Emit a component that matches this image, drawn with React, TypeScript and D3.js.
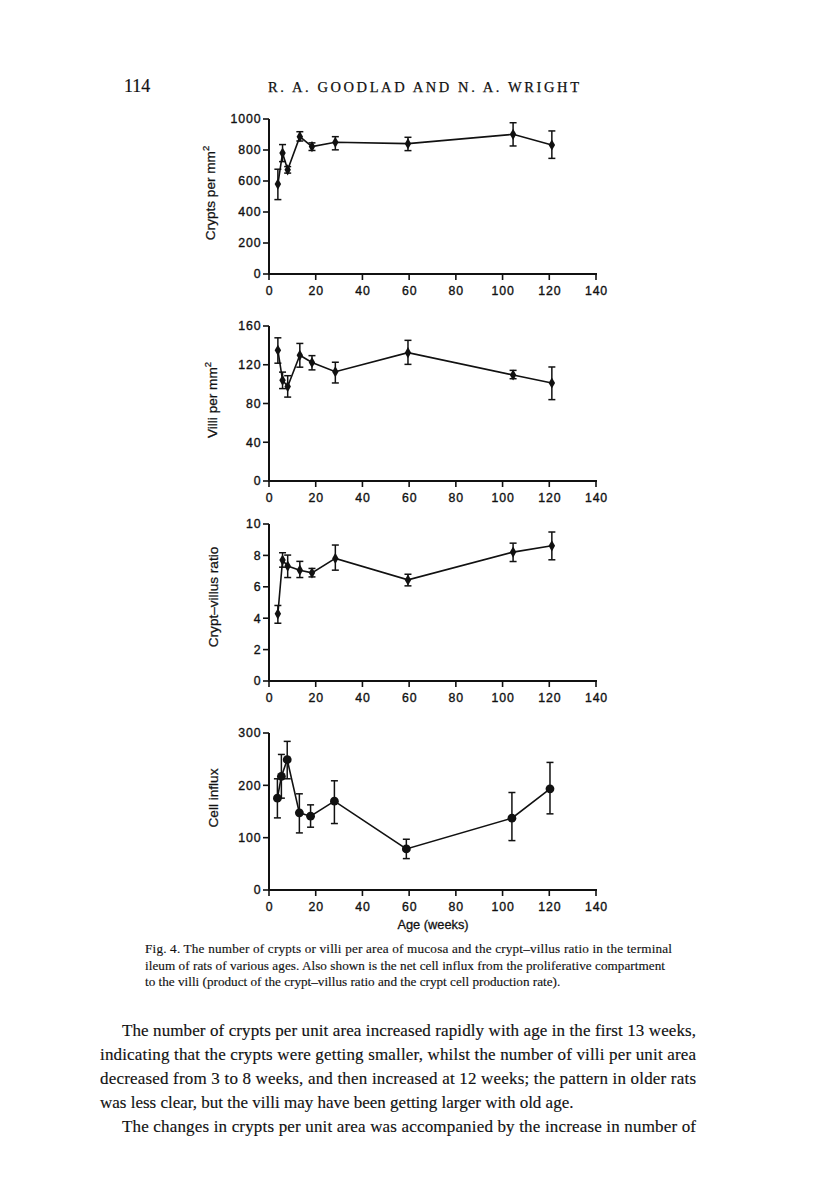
import React from "react";
import * as d3 from "d3";

// ---- data ----
const agesA = [3.8, 5.8, 8.0, 13.2, 18.4, 28.4, 59.5, 104.5, 121.1];
const agesB = [3.6, 5.3, 7.8, 13.0, 17.8, 28.0, 58.8, 104.0, 120.3];

const crypts = [580, 780, 672, 886, 822, 850, 841, 901, 832];
const cryptsHi = [676, 835, 693, 918, 846, 886, 882, 976, 923];
const cryptsLo = [480, 725, 651, 858, 797, 801, 796, 826, 746];

const villi = [135, 104, 97.5, 129.8, 122.3, 112.8, 132.5, 109.4, 101.2];
const villiHi = [147.8, 112.4, 108.7, 142, 129.4, 122.6, 145.2, 114.2, 117.7];
const villiLo = [121.6, 95.4, 86.6, 117.5, 114.7, 101.2, 120.4, 105.6, 84];

const ratio = [4.28, 7.7, 7.32, 7.06, 6.89, 7.81, 6.44, 8.21, 8.61];
const ratioHi = [4.81, 8.17, 8.02, 7.62, 7.17, 8.66, 6.8, 8.78, 9.49];
const ratioLo = [3.68, 7.25, 6.59, 6.59, 6.63, 7.06, 6.06, 7.61, 7.72];

const influx = [175.5, 217, 249, 147.4, 141, 169.8, 78.5, 137.2, 193.4];
const influxHi = [212.5, 259, 284, 183.8, 162.7, 208.7, 97, 186.3, 243.8];
const influxLo = [137.8, 175.5, 212.5, 109.1, 120, 127, 60, 94.4, 145.5];

const xTicks = [0, 20, 40, 60, 80, 100, 120, 140];
const cryptTicks = [0, 200, 400, 600, 800, 1000];
const villiTicks = [0, 40, 80, 120, 160];
const ratioTicks = [0, 2, 4, 6, 8, 10];
const influxTicks = [0, 100, 200, 300];

const headerNum = "114";
const headerText = "R. A. GOODLAD AND N. A. WRIGHT";
const xLabel = "Age (weeks)";
const captionLines = [
  "Fig. 4. The number of crypts or villi per area of mucosa and the crypt\u2013villus ratio in the terminal",
  "ileum of rats of various ages. Also shown is the net cell influx from the proliferative compartment",
  "to the villi (product of the crypt\u2013villus ratio and the crypt cell production rate).",
];
const bodyLines = [
  "The number of crypts per unit area increased rapidly with age in the first 13 weeks,",
  "indicating that the crypts were getting smaller, whilst the number of villi per unit area",
  "decreased from 3 to 8 weeks, and then increased at 12 weeks; the pattern in older rats",
  "was less clear, but the villi may have been getting larger with old age.",
  "The changes in crypts per unit area was accompanied by the increase in number of",
];

const sans = "'Liberation Sans', Arial, Helvetica, sans-serif";
const serif = "'Liberation Serif', 'Times New Roman', serif";

type Panel = {
  label: string;
  sup: boolean;
  ages: number[];
  v: number[];
  hi: number[];
  lo: number[];
  ticks: number[];
  yTop: number;
  yBot: number;
  labelX: number;
  labelY: number;
  r: number;
  round: boolean;
};

const panels: Panel[] = [
  { label: "Crypts per mm", sup: true, ages: agesA, v: crypts, hi: cryptsHi, lo: cryptsLo, ticks: cryptTicks, yTop: 119, yBot: 274, labelX: 215, labelY: 193, r: 2.8, round: false },
  { label: "Villi per mm", sup: true, ages: agesA, v: villi, hi: villiHi, lo: villiLo, ticks: villiTicks, yTop: 326, yBot: 481, labelX: 217, labelY: 400, r: 2.8, round: false },
  { label: "Crypt\u2013villus ratio", sup: false, ages: agesA, v: ratio, hi: ratioHi, lo: ratioLo, ticks: ratioTicks, yTop: 524, yBot: 681, labelX: 218, labelY: 597, r: 2.8, round: false },
  { label: "Cell influx", sup: false, ages: agesB, v: influx, hi: influxHi, lo: influxLo, ticks: influxTicks, yTop: 733, yBot: 890, labelX: 218, labelY: 798, r: 4.4, round: true },
];

const x = d3.scaleLinear().domain([0, 140]).range([269, 596]);

const ink = "#111";
const sansStroke = { stroke: ink, strokeWidth: 0.35 };

function PanelView({ p }: { p: Panel }) {
  const yMax = p.ticks[p.ticks.length - 1];
  const y = d3.scaleLinear().domain([0, yMax]).range([p.yBot, p.yTop]);
  const pts = p.ages.map((a, i) => [a, p.v[i]] as [number, number]);
  const line = d3.line<[number, number]>().x((d) => x(d[0])).y((d) => y(d[1]));
  const x0 = x(0);
  return (
    <g>
      {/* axes */}
      <line x1={x0} x2={x0} y1={y(yMax)} y2={y(0) + 1} stroke={ink} strokeWidth={2} />
      <line x1={x0 - 1} x2={x(140) + 1} y1={y(0)} y2={y(0)} stroke={ink} strokeWidth={2} />
      {p.ticks.map((t) => (
        <g key={"y" + t}>
          <line x1={x0 - 6} x2={x0} y1={y(t)} y2={y(t)} stroke={ink} strokeWidth={1.6} />
          <text x={x0 - 7.5} y={y(t) + 4.3} textAnchor="end" fontFamily={sans} fontSize={12.3} letterSpacing={0.9} fill={ink} {...sansStroke}>
            {t}
          </text>
        </g>
      ))}
      {xTicks.map((t) => (
        <g key={"x" + t}>
          <line x1={x(t)} x2={x(t)} y1={y(0)} y2={y(0) + 6} stroke={ink} strokeWidth={1.6} />
          <text x={x(t) + 0.5} y={y(0) + 21} textAnchor="middle" fontFamily={sans} fontSize={12.3} letterSpacing={0.9} fill={ink} {...sansStroke}>
            {t}
          </text>
        </g>
      ))}
      <text
        transform={`translate(${p.labelX},${p.labelY}) rotate(-90)`}
        textAnchor="middle"
        fontFamily={sans}
        fontSize={13.6}
        fill={ink}
        stroke={ink}
        strokeWidth={0.25}
      >
        {p.label}
        {p.sup && (
          <tspan fontSize={9.5} dy={-6}>
            2
          </tspan>
        )}
      </text>
      {/* line */}
      <path d={line(pts) || ""} fill="none" stroke={ink} strokeWidth={1.6} />
      {/* error bars */}
      {p.ages.map((a, i) => (
        <g key={"e" + i} stroke={ink} strokeWidth={1.5}>
          <line x1={x(a)} x2={x(a)} y1={y(p.hi[i])} y2={y(p.lo[i])} />
          <line x1={x(a) - 3.5} x2={x(a) + 3.5} y1={y(p.hi[i])} y2={y(p.hi[i])} />
          <line x1={x(a) - 3.5} x2={x(a) + 3.5} y1={y(p.lo[i])} y2={y(p.lo[i])} />
        </g>
      ))}
      {/* markers */}
      {pts.map((d, i) =>
        p.round ? (
          <circle key={"m" + i} cx={x(d[0])} cy={y(d[1])} r={p.r} fill={ink} />
        ) : (
          <path
            key={"m" + i}
            d={d3.symbol(d3.symbolDiamond, 36)() || ""}
            transform={`translate(${x(d[0])},${y(d[1])})`}
            fill={ink}
          />
        )
      )}
    </g>
  );
}

export default function App() {
  return (
    <div style={{ position: "absolute", left: 0, top: 0 }}>
      <svg width={816} height={1183} style={{ display: "block", background: "#fff" }}>
        <rect width={816} height={1183} fill="#fff" />
        <text x={124} y={92} fontFamily={serif} fontSize={18} fill={ink} stroke={ink} strokeWidth={0.2}>
          {headerNum}
        </text>
        <text x={268} y={92} fontFamily={serif} fontSize={14.5} fill={ink} stroke={ink} strokeWidth={0.25} textLength={311} lengthAdjust="spacing">
          {headerText}
        </text>
        {panels.map((p, i) => (
          <PanelView key={i} p={p} />
        ))}
        <text x={433} y={929} textAnchor="middle" fontFamily={sans} fontSize={12.8} fill={ink} stroke={ink} strokeWidth={0.3}>
          {xLabel}
        </text>
        {captionLines.map((l, i) => (
          <text
            key={"c" + i}
            x={145}
            y={953 + i * 16.5}
            fontFamily={serif}
            fontSize={13.2}
            fill={ink}
            stroke={ink}
            strokeWidth={0.15}
            textLength={i === 0 ? 527 : i === 1 ? 520 : undefined}
            lengthAdjust="spacing"
          >
            {l}
          </text>
        ))}
        {bodyLines.map((l, i) => {
          const indent = i === 0 || i === 4;
          const x0 = indent ? 122 : 100;
          const w = i === 3 ? undefined : 696 - x0;
          return (
            <text
              key={"b" + i}
              x={x0}
              y={1036 + i * 24}
              fontFamily={serif}
              fontSize={17}
              fill={ink}
              stroke={ink}
              strokeWidth={0.15}
              textLength={w}
              lengthAdjust="spacing"
            >
              {l}
            </text>
          );
        })}
      </svg>
    </div>
  );
}
